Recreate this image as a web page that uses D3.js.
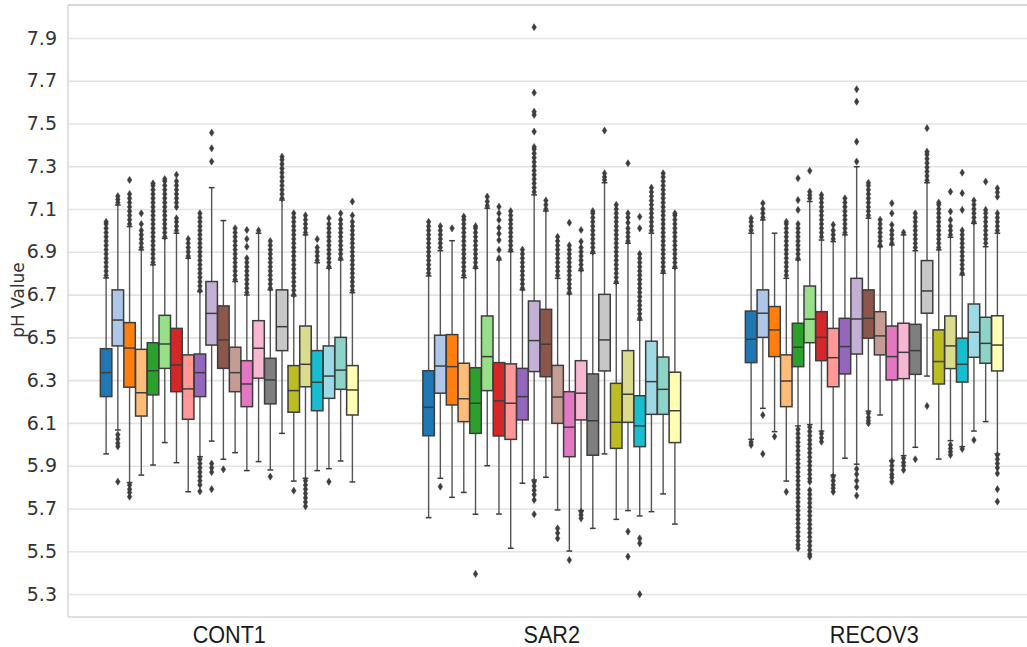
<!DOCTYPE html>
<html><head><meta charset="utf-8">
<script src="https://cdn.jsdelivr.net/npm/d3@7"></script>
<style>body{margin:0;background:#fff}svg{display:block}</style>
</head><body>
<svg id="chart" width="1027" height="647"></svg>
<script>
const categories = ["CONT1", "SAR2", "RECOV3"];
const hues = ["H1","H2","H3","H4","H5","H6","H7","H8","H9","H10","H11","H12","H13","H14","H15","H16","H17","H18","H19","H20","H21","H22"];
const palette = ["#1f77b4","#aec7e8","#ff7f0e","#ffbb78","#2ca02c","#98df8a","#d62728","#ff9896","#9467bd","#c5b0d5","#8c564b","#c49c94","#e377c2","#f7b6d2","#7f7f7f","#c7c7c7","#bcbd22","#dbdb8d","#17becf","#9edae5","#8dd3c7","#ffffb3"];
const yTicks = [5.3,5.5,5.7,5.9,6.1,6.3,6.5,6.7,6.9,7.1,7.3,7.5,7.7,7.9];
const yLabel = "pH Value";

const cont1Low  = [5.955,6.067,5.821,5.856,5.903,6.008,5.914,5.778,5.942,6.015,5.930,5.961,5.877,5.919,5.880,6.051,5.828,5.841,5.877,5.886,5.922,5.824];
const cont1Q1   = [6.223,6.460,6.267,6.132,6.231,6.355,6.246,6.117,6.223,6.464,6.355,6.246,6.176,6.309,6.189,6.438,6.150,6.269,6.157,6.215,6.257,6.137];
const cont1Med  = [6.335,6.581,6.450,6.241,6.344,6.469,6.371,6.259,6.335,6.612,6.488,6.335,6.282,6.449,6.301,6.550,6.251,6.374,6.290,6.319,6.347,6.254];
const cont1Q3   = [6.447,6.722,6.569,6.444,6.475,6.603,6.542,6.418,6.422,6.761,6.647,6.454,6.391,6.578,6.402,6.722,6.368,6.553,6.438,6.460,6.500,6.368];
const cont1High = [6.778,7.119,7.018,6.909,6.839,6.963,6.987,6.870,6.714,7.200,7.046,6.761,6.698,6.987,6.722,7.142,6.694,6.979,6.849,6.823,6.862,6.709];
const cont1Out = [
 [6.79,6.81,6.83,6.85,6.87,6.89,6.91,6.93,6.95,6.97,6.99,7.01,7.03,7.04],
 [7.13,7.145,7.16,6.045,6.025,6.005,5.99,5.825],
 [7.03,7.05,7.07,7.09,7.11,7.13,7.15,7.17,7.236,5.81,5.79,5.775,5.755],
 [6.92,6.94,6.96,6.98,7.00,7.03,7.08],
 [6.85,6.87,6.89,6.91,6.93,6.95,6.97,6.99,7.01,7.03,7.05,7.07,7.09,7.11,7.13,7.15,7.17,7.19,7.21,7.22],
 [6.97,6.99,7.01,7.03,7.05,7.07,7.09,7.11,7.13,7.15,7.17,7.19,7.21,7.23,7.24],
 [7.00,7.02,7.04,7.057,7.11,7.13,7.15,7.17,7.19,7.21,7.23,7.26],
 [6.88,6.90,6.92,6.94,6.96],
 [6.72,6.74,6.76,6.78,6.80,6.82,6.84,6.86,6.88,6.90,6.92,6.94,6.96,6.98,7.00,7.02,7.04,7.06,7.08,5.93,5.91,5.89,5.87,5.85,5.83,5.81,5.78],
 [7.322,7.384,7.457,5.91,5.89,5.87,5.79],
 [5.883],
 [6.77,6.79,6.81,6.83,6.85,6.87,6.89,6.91,6.93,6.95,6.97,6.99,7.01],
 [6.71,6.73,6.75,6.77,6.79,6.81,6.83,6.85,6.87,6.924,6.96,7.002],
 [7.00],
 [6.73,6.75,6.77,6.79,6.81,6.83,6.85,6.87,6.89,6.91,6.93,6.95,5.849],
 [7.15,7.17,7.19,7.21,7.23,7.25,7.27,7.29,7.31,7.33,7.345],
 [6.70,6.72,6.74,6.76,6.78,6.80,6.82,6.84,6.86,6.88,6.90,6.92,6.94,6.96,6.98,7.00,7.02,7.04,7.06,7.08,5.783],
 [6.99,7.01,7.03,7.05,7.07,5.83,5.81,5.79,5.77,5.75,5.73,5.71],
 [6.86,6.88,6.90,6.92,6.959],
 [6.83,6.85,6.87,6.89,6.91,6.93,6.95,6.97,6.99,7.01,7.03,7.057,5.825],
 [6.87,6.89,6.91,6.93,6.95,6.97,6.99,7.01,7.03,7.05,7.08],
 [6.72,6.74,6.76,6.78,6.80,6.82,6.84,6.86,6.88,6.90,6.92,6.94,6.96,6.98,7.00,7.02,7.04,7.07,7.135]
];

const sar2Low  = [5.657,5.841,5.752,5.775,5.673,5.900,5.674,5.514,5.818,5.833,5.846,5.693,5.501,5.690,5.607,5.955,5.649,5.690,5.665,5.685,5.768,5.627];
const sar2Q1   = [6.040,6.239,6.184,6.106,6.051,6.251,6.039,6.023,6.114,6.340,6.316,6.098,5.942,6.114,5.949,6.343,5.981,6.103,5.989,6.140,6.140,6.008];
const sar2Med  = [6.173,6.366,6.363,6.213,6.192,6.410,6.203,6.192,6.223,6.485,6.468,6.221,6.080,6.239,6.110,6.488,6.103,6.234,6.086,6.293,6.257,6.157];
const sar2Q3   = [6.344,6.510,6.513,6.379,6.358,6.600,6.382,6.376,6.355,6.670,6.631,6.369,6.246,6.391,6.329,6.701,6.285,6.438,6.227,6.482,6.408,6.337];
const sar2High = [6.787,6.905,6.952,6.779,6.823,7.104,6.862,6.901,6.722,7.166,7.091,6.776,6.703,6.812,6.893,7.223,6.753,6.940,6.581,6.987,6.800,6.823];
const sar2Out = [
 [6.80,6.82,6.84,6.86,6.88,6.90,6.92,6.94,6.96,6.98,7.00,7.02,7.04],
 [6.92,6.94,6.96,6.98,7.00,7.02,5.802],
 [7.01],
 [6.79,6.81,6.83,6.85,6.87,6.89,6.91,6.93,6.95,6.97,6.99,7.01,7.03,7.05,7.065],
 [6.83,6.85,6.87,6.89,6.91,6.93,6.95,6.97,6.99,7.01,7.02,5.394],
 [7.115,7.135,7.158],
 [6.87,6.909,6.955,6.985,7.012,7.049,7.08,7.111],
 [6.91,6.93,6.95,6.97,6.99,7.01,7.03,7.05,7.07,7.09],
 [6.73,6.75,6.77,6.79,6.81,6.83,6.85,6.87,6.89,6.91],
 [7.18,7.20,7.22,7.24,7.26,7.28,7.30,7.32,7.34,7.36,7.38,7.39,7.462,7.54,7.555,7.644,7.95,5.825,5.805,5.785,5.765,5.74,5.673],
 [7.10,7.12,7.14],
 [6.79,6.81,6.83,6.85,6.87,6.89,6.91,6.93,6.95,6.97,5.607,5.585,5.56],
 [6.71,6.73,6.75,6.77,6.79,6.81,6.83,6.85,6.87,6.89,6.91,6.93,7.036,5.459],
 [6.82,6.84,6.86,6.88,6.90,6.92,6.948,7.002,5.685,5.67,5.654],
 [6.90,6.92,6.94,6.96,6.98,7.00,7.02,7.04,7.06,7.08,7.09],
 [7.236,7.25,7.267,7.467],
 [6.76,6.78,6.80,6.82,6.84,6.86,6.88,6.90,6.92,6.94,6.96,6.98,7.00,7.02,7.04,7.06,7.08,7.10,7.12],
 [6.95,6.97,6.99,7.01,7.036,7.06,7.08,7.314,5.592,5.475],
 [6.59,6.61,6.63,6.65,6.67,6.69,6.71,6.73,6.75,6.77,6.79,6.81,6.83,6.85,6.87,6.89,7.01,7.064,5.56,5.537,5.299],
 [7.00,7.02,7.04,7.06,7.08,7.10,7.12,7.14,7.16,7.18,7.20],
 [6.81,6.83,6.85,6.87,6.89,6.91,6.93,6.95,6.97,6.99,7.01,7.03,7.05,7.07,7.09,7.11,7.13,7.15,7.17,7.19,7.21,7.23,7.25,7.267],
 [6.83,6.85,6.87,6.89,6.91,6.93,6.95,6.97,6.99,7.01,7.03,7.05,7.07,7.08]
];

const recov3Low  = [6.023,6.168,6.059,5.828,6.086,6.092,6.062,5.856,5.935,5.907,6.155,6.137,5.924,5.947,5.986,6.319,5.931,6.017,5.989,6.062,6.106,5.955];
const recov3Q1   = [6.382,6.500,6.410,6.176,6.363,6.475,6.391,6.269,6.329,6.422,6.496,6.418,6.301,6.307,6.327,6.613,6.282,6.354,6.291,6.407,6.379,6.343];
const recov3Med  = [6.491,6.613,6.535,6.296,6.454,6.585,6.500,6.405,6.457,6.586,6.589,6.507,6.410,6.430,6.438,6.717,6.387,6.460,6.374,6.524,6.472,6.464];
const recov3Q3   = [6.623,6.722,6.644,6.418,6.566,6.740,6.620,6.542,6.589,6.776,6.722,6.620,6.553,6.566,6.561,6.859,6.535,6.600,6.496,6.656,6.594,6.601];
const recov3High = [6.987,7.049,6.987,6.776,6.862,7.135,6.955,6.948,6.979,7.298,7.057,6.924,6.932,6.979,6.905,7.223,6.909,6.968,6.792,7.033,6.924,6.987];
const recov3Out = [
 [7.00,7.02,7.04,7.057,6.01,5.997],
 [7.06,7.08,7.10,7.127,6.137,5.955],
 [6.036],
 [6.79,6.81,6.83,6.85,6.87,6.89,6.91,6.93,6.95,6.97,6.99,7.01,7.03,7.04,5.778],
 [6.87,6.89,6.91,6.93,6.95,6.97,6.99,7.01,7.03,7.096,7.142,7.244,6.07,6.05,6.03,6.01,5.99,5.97,5.95,5.93,5.91,5.89,5.87,5.85,5.83,5.81,5.79,5.77,5.75,5.73,5.71,5.69,5.67,5.65,5.63,5.61,5.59,5.57,5.55,5.53,5.514],
 [7.15,7.165,7.181,7.279,6.08,6.06,6.04,6.02,6.00,5.98,5.96,5.94,5.92,5.90,5.88,5.86,5.84,5.825,5.786,5.766,5.746,5.726,5.706,5.686,5.666,5.646,5.626,5.606,5.586,5.566,5.546,5.526,5.506,5.486,5.475],
 [6.97,6.99,7.01,7.03,7.05,7.07,7.09,7.11,7.13,7.15,7.166,6.05,6.03,6.012],
 [6.96,6.98,7.00,7.026,5.849,5.83,5.81,5.795,5.778],
 [6.99,7.01,7.03,7.05,7.07,7.09,7.11,7.13,7.15],
 [7.322,7.415,7.602,7.66,5.885,5.86,5.83,5.80,5.76],
 [7.07,7.09,7.11,7.13,7.15,7.17,7.19,7.21,7.223,6.145,6.125,6.11,6.098],
 [6.93,6.95,6.97,6.99,7.01,7.03,7.05],
 [6.94,6.96,6.98,7.00,7.026,7.08,7.127,5.92,5.90,5.88,5.86,5.845,5.825],
 [6.99,5.935,5.915,5.90,5.88],
 [6.92,6.94,6.96,6.98,7.00,7.02,7.04,7.06,7.08,5.93],
 [7.235,7.255,7.275,7.295,7.315,7.335,7.355,7.368,7.478,6.179],
 [6.92,6.94,6.96,6.98,7.00,7.02,7.04,7.06,7.08,7.10,7.12,7.13],
 [6.98,7.00,7.02,7.049,7.088,7.181,5.997,5.98,5.965,5.95],
 [6.80,6.82,6.84,6.86,6.88,6.90,6.92,6.94,6.96,6.98,7.00,7.096,7.174,7.27,5.978],
 [7.04,7.06,7.08,7.10,7.12,7.14,6.02],
 [6.94,6.96,6.98,7.00,7.02,7.04,7.06,7.08,7.096,7.228],
 [7.00,7.02,7.04,7.06,7.08,7.158,7.178,7.197,5.95,5.93,5.91,5.89,5.864,5.79,5.732]
];

const groups = [
  {cat: "CONT1", low: cont1Low, q1: cont1Q1, med: cont1Med, q3: cont1Q3, high: cont1High, out: cont1Out},
  {cat: "SAR2", low: sar2Low, q1: sar2Q1, med: sar2Med, q3: sar2Q3, high: sar2High, out: sar2Out},
  {cat: "RECOV3", low: recov3Low, q1: recov3Q1, med: recov3Med, q3: recov3Q3, high: recov3High, out: recov3Out}
];

const boxes = [];
groups.forEach(g => hues.forEach((h, i) => boxes.push({
  cat: g.cat, hue: h, color: palette[i],
  low: g.low[i], q1: g.q1[i], med: g.med[i], q3: g.q3[i], high: g.high[i], out: g.out[i]
})));

const svg = d3.select("#chart");
const plot = {left: 68, top: 5, bottom: 617, right: 1035.5};

const y = d3.scaleLinear().domain([5.1925, 8.054]).range([plot.bottom, plot.top]);
const x = d3.scaleBand().domain(categories).range([plot.left, plot.right]).padding(0);
const xHue = d3.scaleBand().domain(hues).range([x.bandwidth() * 0.1, x.bandwidth() * 0.9]).padding(0);
const boxW = xHue.bandwidth() * 0.98;

// grid + y axis
const yAxis = d3.axisLeft(y).tickValues(yTicks).tickFormat(d3.format(".1f"))
  .tickSize(-(1027 - plot.left)).tickPadding(11);
const gy = svg.append("g").attr("transform", `translate(${plot.left},0)`).call(yAxis);
gy.select(".domain").remove();
gy.selectAll(".tick line").attr("stroke", "#e3e3e3").attr("stroke-width", 1.6);
gy.selectAll(".tick text").attr("font-family", "DejaVu Sans, sans-serif").attr("font-size", 19).attr("fill", "#333");

// frame
svg.append("line").attr("x1", plot.left).attr("x2", 1027).attr("y1", plot.top).attr("y2", plot.top)
  .attr("stroke", "#d6d6d6").attr("stroke-width", 2);
svg.append("line").attr("x1", plot.left).attr("x2", plot.left).attr("y1", plot.top).attr("y2", plot.bottom)
  .attr("stroke", "#d6d6d6").attr("stroke-width", 1.5);
svg.append("line").attr("x1", plot.left).attr("x2", 1027).attr("y1", plot.bottom).attr("y2", plot.bottom)
  .attr("stroke", "#d6d6d6").attr("stroke-width", 1.5);

// x axis labels (condensed look)
const xAxis = d3.axisBottom(x).tickSize(0).tickPadding(9);
const gx = svg.append("g").attr("transform", `translate(0,${plot.bottom})`).call(xAxis);
gx.select(".domain").remove();
gx.selectAll(".tick text").attr("font-family", "Liberation Sans, Arial, sans-serif")
  .attr("font-size", 24).attr("fill", "#1a1a1a").attr("transform", "scale(0.9,1)");

// y label
svg.append("text").attr("transform", `translate(24,300) rotate(-90)`).attr("text-anchor", "middle")
  .attr("font-family", "DejaVu Sans, sans-serif").attr("font-size", 17).attr("fill", "#333").text(yLabel);

const lineColor = "#3d3d3d";
const bg = svg.append("g").selectAll("g.box").data(boxes).join("g").attr("class", "box")
  .attr("transform", d => `translate(${x(d.cat) + xHue(d.hue) + xHue.bandwidth() / 2},0)`);

// whiskers
bg.append("line").attr("x1", 0).attr("x2", 0).attr("y1", d => y(d.q3)).attr("y2", d => y(d.high))
  .attr("stroke", "#555").attr("stroke-width", 1.4);
bg.append("line").attr("x1", 0).attr("x2", 0).attr("y1", d => y(d.q1)).attr("y2", d => y(d.low))
  .attr("stroke", "#555").attr("stroke-width", 1.4);
// caps
bg.append("line").attr("x1", -boxW / 4).attr("x2", boxW / 4).attr("y1", d => y(d.high)).attr("y2", d => y(d.high))
  .attr("stroke", lineColor).attr("stroke-width", 1.5);
bg.append("line").attr("x1", -boxW / 4).attr("x2", boxW / 4).attr("y1", d => y(d.low)).attr("y2", d => y(d.low))
  .attr("stroke", lineColor).attr("stroke-width", 1.5);
// box
bg.append("rect").attr("x", -boxW / 2).attr("width", boxW)
  .attr("y", d => y(d.q3)).attr("height", d => y(d.q1) - y(d.q3))
  .attr("fill", d => d.color).attr("stroke", lineColor).attr("stroke-width", 1.5);
// median
bg.append("line").attr("x1", -boxW / 2).attr("x2", boxW / 2).attr("y1", d => y(d.med)).attr("y2", d => y(d.med))
  .attr("stroke", lineColor).attr("stroke-width", 1.5);
// fliers (thin diamonds)
const diamond = "M0,-3.6L2.3,0L0,3.6L-2.3,0Z";
bg.selectAll("path.flier").data(d => d.out).join("path").attr("class", "flier")
  .attr("d", diamond).attr("transform", v => `translate(0,${y(v)})`)
  .attr("fill", lineColor).attr("stroke", lineColor).attr("stroke-width", 0.5);
</script>
</body></html>
